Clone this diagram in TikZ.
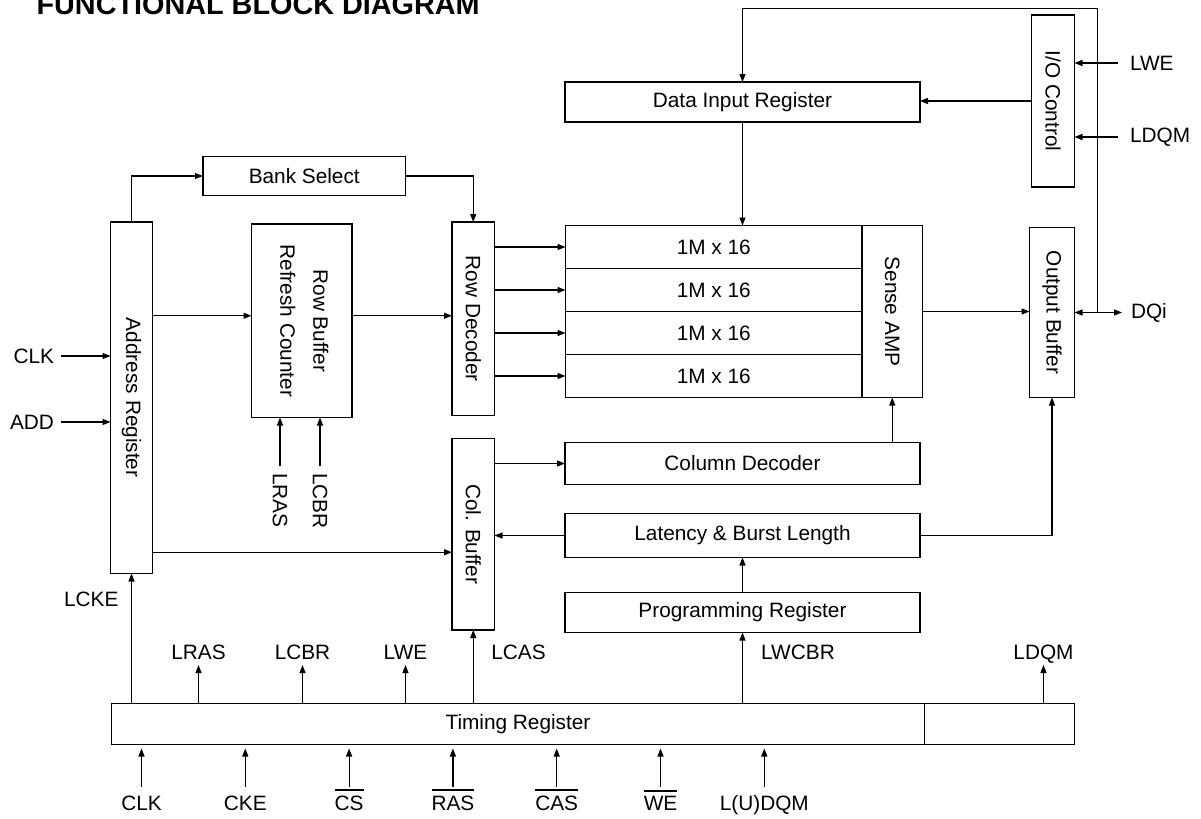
\documentclass[tikz,border=0pt]{standalone}
\usepackage{fontspec}
\setmainfont{Liberation Sans}
\usetikzlibrary{positioning,arrows.meta,calc}
\newcommand{\ovl}[1]{\leavevmode\vbox{\hrule height 1pt\kern 2pt\hbox{#1}}}
\newcommand{\vtxt}[1]{\rotatebox{-90}{#1}}

\begin{document}
\begin{tikzpicture}[
    x=0.5pt, y=-0.5pt,
    line width=0.6pt,
    >={Triangle[length=4pt,width=3pt]},
    blk/.style={rectangle, draw, outer sep=0pt, inner sep=0pt, font=\fontsize{10.4}{12.5}\selectfont},
    cell/.style={blk, minimum width=148.25pt, minimum height=21.5pt},
    wide/.style={blk, minimum width=177.5pt},
    sig/.style={inner sep=0pt, font=\fontsize{10.4}{12.5}\selectfont}
]
  \useasboundingbox (0,0) rectangle (1201,819);

  \node[anchor=base west, inner sep=0pt, font=\fontsize{14.4}{17}\selectfont\bfseries] (title) at (36,15) {FUNCTIONAL BLOCK DIAGRAM};

  \node[blk, minimum width=21pt, minimum height=175.75pt, anchor=north west] (addr) at (110.5,222) {\vtxt{Address Register}};
  \node[blk, minimum width=50.25pt, minimum height=96.75pt, anchor=north west] (rbrc) at (251.5,224) {\vtxt{\begin{tabular}{@{}c@{}}Row Buffer\\[4pt]Refresh Counter\end{tabular}}};
  \node[blk, minimum width=21.25pt, minimum height=96.75pt, anchor=north west] (rowdec) at (452,222) {\vtxt{Row Decoder}};
  \node[blk, minimum width=21.25pt, minimum height=95.75pt, below=11.5pt of rowdec] (colbuf) {\vtxt{Col. Buffer}};
  \node[blk, minimum width=101.25pt, minimum height=19.5pt, anchor=north west] (bank) at (203,156.5) {Bank Select};
  \node[wide, minimum height=20pt, anchor=north west] (dir) at (565,82) {Data Input Register};
  \node[blk, minimum width=21.5pt, minimum height=86pt, anchor=north west] (io) at (1031.5,15) {\vtxt{I/O Control}};

  \node[cell, anchor=north west] (c1) at (565.5,225.5) {1M x 16};
  \node[cell, below=0pt of c1] (c2) {1M x 16};
  \node[cell, below=0pt of c2] (c3) {1M x 16};
  \node[cell, below=0pt of c3] (c4) {1M x 16};
  \node[blk, minimum width=30.25pt, minimum height=86pt, anchor=north west] (sense) at (c1.north east) {\vtxt{Sense AMP}};
  \node[blk, minimum width=22.5pt, minimum height=85pt, anchor=north west] (outbuf) at (1029.5,227.5) {\vtxt{Output Buffer}};

  \node[wide, minimum height=21pt, anchor=north west] (coldec) at (565,442.5) {Column Decoder};
  \node[wide, minimum height=22pt, below=14.5pt of coldec] (lat) {Latency \& Burst Length};
  \node[wide, minimum height=20pt, below=17.5pt of lat] (prog) {Programming Register};
  \node[blk, minimum width=406.5pt, minimum height=20.5pt, anchor=north west] (timing) at (111.5,703.5) {Timing Register};
  \node[blk, minimum width=75pt, minimum height=20.5pt, right=0pt of timing] (timing2) {};

  \node[sig, anchor=east, outer sep=3.5pt] (clk) at (61,356) {CLK};
  \node[sig, anchor=east, outer sep=3.5pt] (add) at (61,422) {ADD};
  \node[sig, anchor=east] (lcke) at (119,599) {LCKE};
  \node[sig, anchor=north, outer sep=3.5pt] (lrasr) at (280,466) {\vtxt{LRAS}};
  \node[sig, anchor=north, outer sep=3.5pt] (lcbrr) at (320,466) {\vtxt{LCBR}};
  \node[sig, anchor=west, outer sep=6pt] (lwer) at (1118,63) {LWE};
  \node[sig, anchor=west, outer sep=6pt] (ldqmr) at (1118,137) {LDQM};
  \node[sig, anchor=west, outer sep=4.5pt] (dqi) at (1122,312.5) {DQi};

  \node[sig, anchor=base, text depth=0pt, outer sep=3pt] (lras) at (198.5,659) {LRAS};
  \node[sig, anchor=base, text depth=0pt, outer sep=3pt] (lcbr) at (302.5,659) {LCBR};
  \node[sig, anchor=base, text depth=0pt, outer sep=3pt] (lwe) at (405.5,659) {LWE};
  \node[sig, anchor=base, text depth=0pt, outer sep=3pt] (ldqm) at (1043.5,659) {LDQM};
  \node[sig, anchor=base] (lcas) at (518.5,659) {LCAS};
  \node[sig, anchor=base] (lwcbr) at (798,659) {LWCBR};

  \foreach \t [count=\i from 0] in {CLK,CKE,\ovl{CS},\ovl{RAS},\ovl{CAS},\ovl{WE},L(U)DQM} {
    \node[sig, anchor=base, text height=11pt, text depth=0pt, outer sep=0.6pt] (in\i) at ({141.5+103.8*\i},810) {\t};
    \draw[->, shorten >=2pt] (in\i.north) -- (in\i.north |- timing.south);
  }

  \draw[->] (addr.north) |- (bank.west);
  \draw[->] (bank.east) -| (rowdec.north);
  \draw[->] (clk.east) -- (clk.east -| addr.west);
  \draw[->] (add.east) -- (add.east -| addr.west);
  \draw[->] ([yshift=2.5pt]rbrc.west -| addr.east) -- ([yshift=2.5pt]rbrc.west);
  \draw[->] ([yshift=2.5pt]rbrc.east) -- ([yshift=2.5pt]rbrc.east -| rowdec.west);
  \draw[->] (lrasr.north) -- (lrasr.north |- rbrc.south);
  \draw[->] (lcbrr.north) -- (lcbrr.north |- rbrc.south);
  \foreach \i in {1,...,4}
    \draw[->] (c\i.west -| rowdec.east) -- (c\i.west);
  \coordinate (acol) at ([yshift=-9pt]colbuf.west);
  \draw[->] (acol -| addr.east) -- (acol);
  \draw[->] (coldec.west -| colbuf.east) -- (coldec.west);
  \draw[->] (lat.west) -- (lat.west -| colbuf.east);
  \draw[->] (coldec.north -| sense.south) -- (sense.south);
  \draw[->] (lat.east) -| (outbuf.south);
  \draw[->] (prog.north) -- (lat.south);
  \draw[->] (dir.south) -- (dir.south |- c1.north);
  \draw[->] (sense.east) -- (sense.east -| outbuf.west);
  \draw[<->] (outbuf.east) -- (dqi.west);
  \coordinate (fbtop) at (1097.5,8.5);
  \coordinate (fbj) at (fbtop |- outbuf.east);
  \draw[->] (fbj) -- (fbtop) -| (dir.north);
  \draw[->] (io.west) -- (io.west -| dir.east);
  \draw[->] (lwer.west) -- (lwer.west -| io.east);
  \draw[->] (ldqmr.west) -- (ldqmr.west -| io.east);

  \draw[->] (addr.south |- timing.north) -- (addr.south);
  \draw[->] (lras.south |- timing.north) -- (lras.south);
  \draw[->] (lcbr.south |- timing.north) -- (lcbr.south);
  \draw[->] (lwe.south |- timing.north) -- (lwe.south);
  \draw[->] (colbuf.south |- timing.north) -- (colbuf.south);
  \draw[->] (prog.south |- timing.north) -- (prog.south);
  \draw[->] (ldqm.south |- timing.north) -- (ldqm.south);
\end{tikzpicture}
\end{document}
